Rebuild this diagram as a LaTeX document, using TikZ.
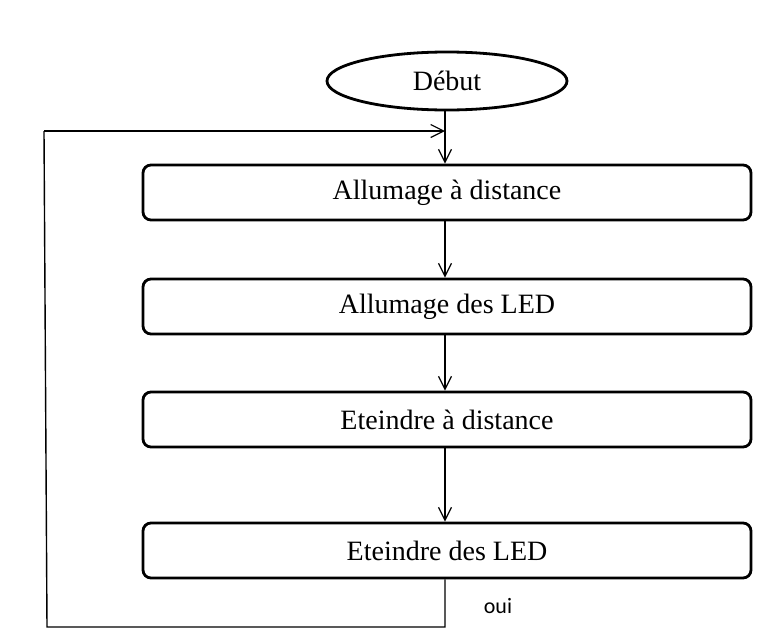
\documentclass[tikz,border=0pt]{standalone}
\usepackage{fontspec}
\setmainfont{Liberation Serif}
\newfontfamily\ouifont{Carlito}
\usetikzlibrary{arrows.meta,shapes.geometric}
\begin{document}
\begin{tikzpicture}[x=1pt,y=-1pt,
  stepbox/.style={draw,line width=2.8pt,rounded corners=8pt,minimum width=608pt,minimum height=55pt,inner sep=0pt,font=\fontsize{28}{30}\selectfont},
  startnode/.style={draw,ellipse,line width=2.8pt,minimum width=240pt,minimum height=58pt,inner sep=0pt,font=\fontsize{28}{30}\selectfont},
  conn/.style={line width=1.2pt,-{Straight Barb[length=13pt,width=13pt,line width=1.2pt]}},
  loopline/.style={line width=1.4pt}]
\useasboundingbox (0,0) rectangle (758,640);
\node[startnode] (start) at (447,81) {Début};
\node[stepbox] (b1) at (447,192.5) {Allumage à distance};
\node[stepbox] (b2) at (447,306.5) {Allumage des LED};
\node[stepbox] (b3) at (447,419.5) {Eteindre à distance};
\node[stepbox] (b4) at (447,550.5) {Eteindre des LED};
\coordinate (join) at (445,131);
\coordinate (bl) at (47,627);
\coordinate (tl) at (44,131);
\coordinate (br) at (445,627);
\draw[conn] (start.south -| join) -- (b1.north -| join);
\draw[conn] (b1.south -| join) -- (b2.north -| join);
\draw[conn] (b2.south -| join) -- (b3.north -| join);
\draw[conn] (b3.south -| join) -- (b4.north -| join);
\draw[loopline] (b4.south -| br) -- (br) -- (bl) -- (tl);
\draw[conn] (tl) -- (join);
\node[font=\ouifont\fontsize{22}{24}\selectfont] (oui) at (498,606) {oui};
\end{tikzpicture}
\end{document}
